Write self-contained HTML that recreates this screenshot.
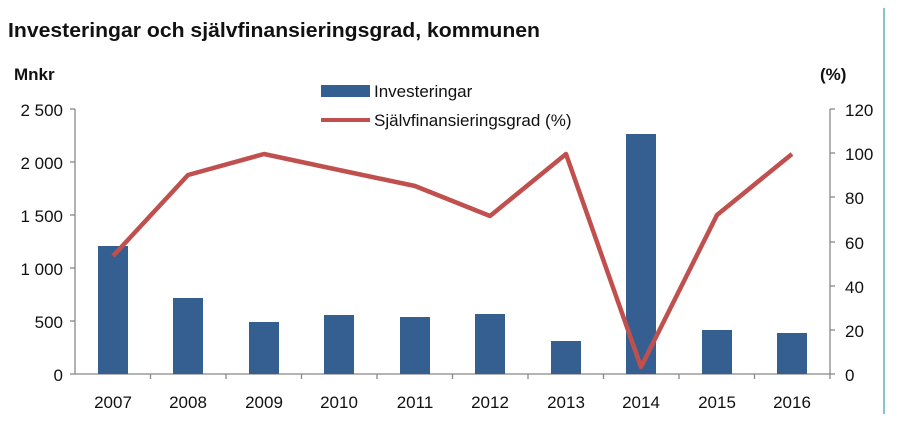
<!DOCTYPE html>
<html><head><meta charset="utf-8"><style>
body{margin:0;background:#fff;}
svg text{font-family:"Liberation Sans",sans-serif;}
</style></head><body>
<svg width="900" height="429" xmlns="http://www.w3.org/2000/svg">
<rect width="900" height="429" fill="#fff"/>
<text x="8" y="37" font-size="20" font-weight="bold" fill="#111" textLength="532" lengthAdjust="spacingAndGlyphs">Investeringar och självfinansieringsgrad, kommunen</text>
<text x="14" y="80" font-size="17" font-weight="bold" fill="#111">Mnkr</text>
<text x="820" y="80" font-size="17" font-weight="bold" fill="#111">(%)</text>
<line x1="884" y1="8" x2="884" y2="414" stroke="#5fb3b3" stroke-width="1.5"/>
<rect x="321" y="85" width="49" height="12" fill="#365f91"/>
<text x="374" y="97" font-size="17" fill="#111">Investeringar</text>
<line x1="321" y1="120" x2="370" y2="120" stroke="#c0504d" stroke-width="4"/>
<text x="374" y="126" font-size="17" fill="#111">Självfinansieringsgrad (%)</text>
<g stroke="#888" stroke-width="1.3">
<line x1="75" y1="109" x2="75" y2="374"/>
<line x1="830" y1="109" x2="830" y2="374"/>
<line x1="75" y1="374" x2="830" y2="374"/>
<line x1="70" y1="109" x2="75" y2="109"/><line x1="70" y1="162" x2="75" y2="162"/><line x1="70" y1="215" x2="75" y2="215"/><line x1="70" y1="268" x2="75" y2="268"/><line x1="70" y1="321" x2="75" y2="321"/><line x1="70" y1="374" x2="75" y2="374"/>
<line x1="830" y1="109" x2="835" y2="109"/><line x1="830" y1="153" x2="835" y2="153"/><line x1="830" y1="197" x2="835" y2="197"/><line x1="830" y1="242" x2="835" y2="242"/><line x1="830" y1="286" x2="835" y2="286"/><line x1="830" y1="330" x2="835" y2="330"/><line x1="830" y1="374" x2="835" y2="374"/>
<line x1="150.5" y1="374" x2="150.5" y2="379"/><line x1="226" y1="374" x2="226" y2="379"/><line x1="301.5" y1="374" x2="301.5" y2="379"/><line x1="377" y1="374" x2="377" y2="379"/><line x1="452.5" y1="374" x2="452.5" y2="379"/><line x1="528" y1="374" x2="528" y2="379"/><line x1="603.5" y1="374" x2="603.5" y2="379"/><line x1="679" y1="374" x2="679" y2="379"/><line x1="754.5" y1="374" x2="754.5" y2="379"/><line x1="830" y1="374" x2="830" y2="379"/>
</g>
<g font-size="17" fill="#111" text-anchor="end">
<text x="63" y="116">2 500</text><text x="63" y="169">2 000</text><text x="63" y="222">1 500</text><text x="63" y="275">1 000</text><text x="63" y="328">500</text><text x="63" y="381">0</text>
</g>
<g font-size="17" fill="#111" text-anchor="start">
<text x="845" y="116">120</text><text x="845" y="160">100</text><text x="845" y="204">80</text><text x="845" y="249">60</text><text x="845" y="293">40</text><text x="845" y="337">20</text><text x="845" y="381">0</text>
</g>
<g font-size="17" fill="#111" text-anchor="middle">
<text x="113" y="408">2007</text><text x="188" y="408">2008</text><text x="264" y="408">2009</text><text x="339" y="408">2010</text><text x="415" y="408">2011</text><text x="490" y="408">2012</text><text x="566" y="408">2013</text><text x="641" y="408">2014</text><text x="717" y="408">2015</text><text x="792" y="408">2016</text>
</g>
<g fill="#365f91">
<rect x="98" y="246" width="30" height="128"/>
<rect x="173" y="298" width="30" height="76"/>
<rect x="249" y="322" width="30" height="52"/>
<rect x="324" y="315" width="30" height="59"/>
<rect x="400" y="317" width="30" height="57"/>
<rect x="475" y="314" width="30" height="60"/>
<rect x="551" y="341" width="30" height="33"/>
<rect x="626" y="134" width="30" height="240"/>
<rect x="702" y="330" width="30" height="44"/>
<rect x="777" y="333" width="30" height="41"/>
</g>
<polyline fill="none" stroke="#c0504d" stroke-width="4.5" stroke-linejoin="round" points="113,256 188,175 264,154 339,170 415,186 490,216 566,154 641,367 717,215 792,154"/>
</svg>
</body></html>
